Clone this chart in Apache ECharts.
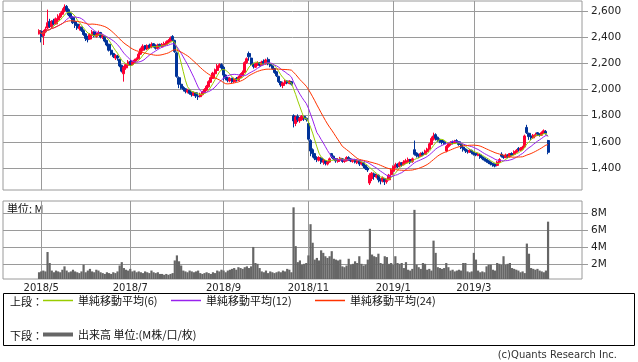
<!DOCTYPE html>
<html><head><meta charset="utf-8">
<script src="https://cdn.jsdelivr.net/npm/echarts/dist/echarts.min.js"></script>
<style>html,body{margin:0;padding:0;background:#fff}#c{width:638px;height:362px}</style>
</head><body><div id="c"></div>
<script>
// ---- tick labels ----
const priceTicks = [1400, 1600, 1800, 2000, 2200, 2400, 2600];
const volTicks = [2, 4, 6, 8];
const monthLabels = ['2018/5', '2018/7', '2018/9', '2018/11', '2019/1', '2019/3'];
const holidays = ['2018-04-30','2018-05-03','2018-05-04','2018-07-16','2018-09-17','2018-09-24','2018-10-08','2018-11-23','2018-12-24','2018-12-31','2019-01-01','2019-01-02','2019-01-03','2019-01-14','2019-02-11','2019-03-21'];
const firstDay = '2018-04-27';

// ---- series values ----
const opens = [
2425,2445,2410,2440,2470,2520,2480,2525,2500,2530,
2555,2575,2600,2635,2610,2580,2550,2520,2500,2465,
2475,2450,2425,2400,2385,2415,2440,2405,2415,2435,
2400,2405,2375,2345,2300,2275,2240,2255,2230,2185,
2120,2165,2185,2215,2190,2205,2225,2235,2270,2300,
2335,2310,2340,2325,2350,2335,2315,2345,2325,2335,
2345,2360,2370,2405,2375,2280,2090,2040,2015,2005,
1980,1995,1975,1955,1975,1950,1945,1960,1975,1995,
2020,2055,2085,2120,2145,2175,2190,2170,2110,2090,
2065,2085,2060,2085,2070,2090,2110,2130,2205,2275,
2240,2195,2170,2185,2205,2185,2215,2195,2230,2195,
2180,2160,2135,2100,2060,2030,2045,2065,2045,2060,
1800,1740,1795,1760,1770,1795,1780,1740,1610,1540,
1510,1480,1460,1475,1445,1455,1430,1445,1510,1490,
1470,1450,1460,1470,1450,1455,1480,1470,1450,1465,
1440,1455,1430,1440,1420,1400,1285,1320,1355,1330,
1345,1315,1300,1320,1295,1310,1350,1375,1405,1430,
1415,1440,1425,1440,1450,1465,1450,1540,1515,1500,
1490,1515,1505,1525,1545,1580,1620,1655,1635,1620,
1610,1600,1530,1565,1580,1600,1590,1610,1600,1580,
1560,1545,1535,1520,1535,1520,1510,1495,1500,1485,
1475,1465,1455,1445,1435,1430,1420,1445,1505,1490,
1480,1500,1485,1510,1505,1520,1550,1535,1545,1560,
1710,1665,1645,1630,1645,1670,1660,1650,1665,1680,1610];
const closes = [
2450,2405,2440,2460,2510,2480,2520,2500,2540,2560,
2580,2600,2630,2605,2570,2550,2510,2490,2470,2480,
2450,2420,2390,2380,2420,2440,2410,2420,2435,2400,
2410,2370,2340,2300,2270,2250,2260,2240,2180,2140,
2170,2190,2210,2190,2210,2225,2235,2270,2310,2330,
2310,2335,2320,2345,2330,2315,2340,2330,2345,2350,
2365,2375,2395,2380,2290,2100,2040,2010,2000,1985,
1995,1970,1960,1975,1950,1945,1965,1980,2000,2025,
2060,2090,2125,2150,2180,2190,2165,2110,2085,2070,
2085,2060,2080,2075,2095,2115,2130,2205,2235,2250,
2190,2175,2195,2205,2185,2210,2195,2225,2195,2180,
2160,2130,2105,2060,2035,2050,2065,2050,2065,2040,
1760,1790,1770,1780,1795,1775,1770,1620,1530,1510,
1475,1465,1480,1445,1460,1435,1445,1470,1490,1470,
1455,1465,1475,1450,1460,1480,1470,1455,1465,1445,
1455,1430,1440,1415,1395,1385,1345,1360,1335,1345,
1310,1300,1325,1295,1305,1345,1385,1410,1425,1410,
1440,1425,1445,1455,1465,1445,1470,1505,1495,1490,
1510,1500,1530,1545,1585,1625,1645,1630,1615,1605,
1595,1585,1565,1585,1595,1590,1605,1600,1580,1555,
1540,1530,1525,1535,1520,1505,1500,1505,1480,1470,
1460,1450,1440,1430,1425,1415,1445,1465,1490,1480,
1500,1485,1510,1500,1525,1535,1540,1550,1560,1645,
1670,1640,1630,1650,1655,1660,1650,1670,1685,1665,1520];
const lows = [
2420,2360,2340,2430,2460,2470,2470,2490,2495,2520,
2545,2570,2590,2590,2560,2540,2500,2470,2455,2450,
2440,2410,2370,2360,2380,2410,2400,2395,2410,2390,
2385,2360,2330,2290,2260,2240,2225,2220,2170,2130,
2060,2150,2175,2180,2185,2200,2215,2230,2265,2290,
2300,2300,2310,2315,2320,2305,2310,2320,2320,2325,
2340,2350,2365,2370,2280,2090,2010,2000,1985,1970,
1970,1960,1945,1950,1935,1920,1940,1955,1970,1990,
2015,2050,2080,2110,2140,2165,2150,2070,2070,2055,
2055,2050,2050,2060,2065,2085,2100,2125,2195,2220,
2180,2160,2165,2180,2175,2180,2185,2190,2185,2170,
2150,2120,2095,2050,2020,2010,2040,2040,2040,2030,
1710,1720,1750,1745,1760,1760,1755,1610,1490,1480,
1460,1445,1450,1430,1425,1420,1420,1440,1475,1460,
1440,1440,1450,1440,1440,1450,1455,1445,1440,1435,
1430,1415,1420,1400,1385,1370,1270,1300,1310,1320,
1290,1275,1290,1270,1280,1305,1345,1365,1400,1400,
1405,1410,1420,1430,1440,1430,1440,1495,1480,1475,
1485,1490,1500,1520,1540,1575,1610,1610,1600,1590,
1580,1575,1520,1555,1570,1580,1585,1590,1570,1545,
1525,1515,1510,1515,1505,1495,1490,1490,1470,1460,
1450,1440,1430,1420,1410,1405,1415,1440,1480,1470,
1475,1475,1480,1490,1500,1515,1525,1530,1540,1555,
1660,1615,1615,1625,1640,1645,1640,1645,1660,1655,1505];
const highs = [
2460,2450,2455,2480,2610,2540,2530,2540,2550,2575,
2590,2620,2650,2645,2620,2590,2560,2525,2505,2500,
2480,2460,2430,2410,2430,2455,2445,2435,2450,2440,
2425,2410,2380,2350,2310,2280,2270,2265,2235,2190,
2180,2200,2225,2225,2220,2235,2245,2285,2320,2345,
2340,2345,2350,2360,2355,2345,2350,2350,2355,2365,
2375,2385,2405,2415,2380,2290,2100,2050,2025,2010,
2005,2000,1985,1985,1980,1965,1975,1990,2010,2035,
2070,2100,2135,2160,2195,2200,2200,2180,2115,2095,
2095,2090,2090,2095,2105,2125,2145,2215,2245,2290,
2245,2205,2205,2215,2210,2220,2230,2235,2245,2200,
2185,2165,2140,2105,2065,2060,2075,2070,2070,2065,
1810,1800,1810,1790,1805,1800,1785,1750,1620,1550,
1515,1490,1490,1480,1470,1460,1455,1480,1515,1495,
1475,1475,1485,1475,1470,1490,1490,1475,1470,1470,
1465,1460,1450,1445,1425,1410,1360,1370,1365,1355,
1350,1320,1335,1325,1320,1355,1395,1420,1440,1435,
1450,1445,1460,1470,1480,1470,1480,1610,1520,1510,
1520,1525,1540,1555,1595,1640,1670,1665,1640,1625,
1615,1605,1575,1590,1605,1610,1615,1620,1605,1585,
1565,1550,1540,1545,1540,1525,1515,1515,1505,1490,
1480,1470,1460,1450,1440,1435,1455,1475,1520,1500,
1510,1505,1515,1520,1535,1545,1560,1560,1570,1655,
1730,1670,1655,1660,1670,1675,1665,1680,1695,1690,1615];
const volumes = [
1.0,1.1,1.2,1.1,3.4,2.1,1.2,1.0,1.2,1.1,
1.0,1.3,1.7,1.2,1.0,1.1,1.3,1.1,1.0,0.9,
1.1,1.9,1.0,1.2,1.4,1.1,1.0,1.3,1.2,1.0,
0.9,0.8,1.0,0.9,0.8,1.0,0.9,1.1,1.8,2.2,
1.5,1.3,1.2,1.4,1.1,1.2,1.0,1.1,1.0,0.9,
1.1,1.0,0.9,1.2,1.0,0.9,1.0,0.8,0.8,0.7,
0.8,0.7,0.8,0.9,2.4,3.0,2.3,1.8,1.2,1.1,
1.0,1.2,1.1,1.0,1.1,1.2,0.9,0.8,0.9,1.0,
0.9,0.8,1.0,0.9,1.2,1.1,1.3,1.2,1.0,1.2,
1.3,1.4,1.5,1.3,1.6,1.5,1.4,1.6,1.7,1.5,
1.7,4.0,2.1,2.0,1.5,1.1,1.0,1.2,0.9,1.1,
1.0,0.9,1.0,1.1,1.0,1.2,1.1,1.4,1.3,1.0,
8.7,4.1,2.2,2.4,1.9,2.0,2.1,3.0,6.7,4.5,
2.5,2.7,2.4,3.6,3.3,2.9,2.7,2.9,3.5,2.6,
2.5,2.4,2.5,1.7,1.6,1.8,2.6,1.9,2.0,2.3,
2.1,2.9,2.0,1.8,1.9,2.5,6.15,3.1,2.9,2.8,
3.2,2.1,2.0,2.9,2.8,2.0,2.1,1.9,2.9,2.1,
2.0,2.1,1.5,2.2,1.3,1.2,1.4,8.4,1.9,1.6,
1.4,2.1,2.0,1.3,1.4,1.2,4.75,3.3,1.6,1.5,
1.4,1.5,2.1,1.6,1.2,1.3,1.1,1.2,1.3,1.2,
2.1,2.1,1.1,1.0,1.1,3.3,2.5,1.2,1.0,1.1,
1.0,1.7,1.9,1.9,1.3,1.2,2.1,2.0,1.9,2.9,
1.9,2.0,2.1,1.5,1.4,1.3,1.2,1.0,1.1,0.9,
4.4,3.2,1.5,1.4,1.3,1.4,1.2,1.1,1.0,1.2,7.0];

// ---- categories (trading days) ----
function tradingDays(start, n) {
  const out = []; let t = Date.parse(start + 'T00:00:00Z');
  while (out.length < n) {
    const d = new Date(t); const wd = d.getUTCDay(); const iso = d.toISOString().slice(0, 10);
    if (wd !== 0 && wd !== 6 && holidays.indexOf(iso) < 0) out.push(iso);
    t += 86400000;
  }
  return out;
}
const dates = tradingDays(firstDay, closes.length);
const PAD_L = 17, PAD_R = 16;
const cats = [];
for (let i = 0; i < PAD_L; i++) cats.push('pre' + i);
dates.forEach(d => cats.push(d));
for (let i = 0; i < PAD_R; i++) cats.push('post' + i);
const monthOf = iso => iso.slice(0, 4) + '/' + parseInt(iso.slice(5, 7), 10);
const monthIdx = {};
dates.forEach((d, i) => {
  const m = monthOf(d);
  if (i > 0 && monthOf(dates[i - 1]) !== m && monthLabels.indexOf(m) >= 0) monthIdx[PAD_L + i] = m;
});

function movingAvg(n) {
  return closes.map((c, i) => {
    const s = Math.max(0, i - n + 1); let sum = 0;
    for (let k = s; k <= i; k++) sum += closes[k];
    return [PAD_L + i, +(sum / (i - s + 1)).toFixed(1)];
  });
}

const CJK = "'Noto Sans CJK JP', sans-serif";
const NUM = "'DejaVu Sans', sans-serif";
const GRID = '#9a9a9a';
const UP = '#ff0033', DOWN = '#003399';
const nameMA6 = '単純移動平均(6)', nameMA12 = '単純移動平均(12)', nameMA24 = '単純移動平均(24)', nameVol = '出来高 単位:(M株/口/枚)';

const chart = echarts.init(document.getElementById('c'), null, { renderer: 'canvas' });
const xBase = (gi, showLabel) => ({
  type: 'category', gridIndex: gi, data: cats, boundaryGap: false,
  axisLine: { show: false }, axisTick: { show: false },
  splitLine: { show: true, interval: (i) => monthIdx[i] !== undefined, lineStyle: { color: GRID, width: 1 } },
  axisLabel: showLabel ? {
    show: true, interval: (i) => monthIdx[i] !== undefined, formatter: (v, i) => monthIdx[i] || '',
    color: '#222', fontSize: 10, fontFamily: NUM, margin: 4
  } : { show: false }
});
chart.setOption({
  animation: false,
  backgroundColor: '#fff',
  grid: [
    { left: 3, top: 1, width: 579, height: 189, show: true, borderColor: GRID, borderWidth: 1, backgroundColor: 'transparent' },
    { left: 3, top: 201, width: 579, height: 78, show: true, borderColor: GRID, borderWidth: 1, backgroundColor: 'transparent' }
  ],
  xAxis: [xBase(0, false), xBase(1, true)],
  yAxis: [
    { type: 'value', gridIndex: 0, position: 'right', min: 1232, max: 2676, splitNumber: 7, scale: true,
      axisLine: { show: false },
      axisTick: { show: true, length: 6, lineStyle: { color: GRID }, customValues: priceTicks },
      splitLine: { show: true, lineStyle: { color: GRID } },
      axisLabel: { customValues: priceTicks, formatter: v => v.toLocaleString('en-US'), color: '#222', fontSize: 10.5, fontFamily: NUM, margin: 9 } },
    { type: 'value', gridIndex: 1, position: 'right', min: 0.2, max: 9.45, splitNumber: 4,
      axisLine: { show: false },
      axisTick: { show: true, length: 6, lineStyle: { color: GRID }, customValues: volTicks },
      splitLine: { show: true, lineStyle: { color: GRID } },
      axisLabel: { customValues: volTicks, formatter: v => v + 'M', color: '#222', fontSize: 10.5, fontFamily: NUM, margin: 9 } }
  ],
  legend: [
    { data: [{ name: nameMA6, icon: 'rect' }], left: 43, top: 295 },
    { data: [{ name: nameMA12, icon: 'rect' }], left: 171, top: 295 },
    { data: [{ name: nameMA24, icon: 'rect' }], left: 315, top: 295 },
    { data: [{ name: nameVol, icon: 'rect' }], left: 43, top: 329, itemHeight: 4 }
  ].map(l => Object.assign({ selectedMode: false, itemWidth: 30, itemHeight: 1.5, itemGap: 5, padding: 0,
      textStyle: { fontSize: 11, fontFamily: CJK, color: '#111' } }, l)),
  graphic: [
    { type: 'rect', silent: true, shape: { x: 3.5, y: 293.5, width: 631, height: 52 }, style: { fill: 'none', stroke: '#000', lineWidth: 1 } },
    { type: 'text', silent: true, x: 10, y: 302, style: { text: '上段：', font: "11px 'Noto Sans CJK JP'", fill: '#111', verticalAlign: 'middle' } },
    { type: 'text', silent: true, x: 10, y: 336, style: { text: '下段：', font: "11px 'Noto Sans CJK JP'", fill: '#111', verticalAlign: 'middle' } },
    { type: 'text', silent: true, x: 7, y: 209, style: { text: '単位: M', font: "11px 'Noto Sans CJK JP'", fill: '#111', verticalAlign: 'middle' } },
    { type: 'text', silent: true, x: 617, y: 355, style: { text: '(c)Quants Research Inc.', font: "10px 'DejaVu Sans'", fill: '#333', align: 'right', verticalAlign: 'middle' } }
  ],
  series: [
    { type: 'candlestick', xAxisIndex: 0, yAxisIndex: 0, barWidth: 2.6, z: 2,
      encode: { x: 0, y: [1, 2, 3, 4] },
      data: closes.map((c, i) => [PAD_L + i, opens[i], c, lows[i], highs[i]]),
      itemStyle: { color: UP, color0: DOWN, borderColor: UP, borderColor0: DOWN, borderWidth: 1 } },
    { type: 'line', name: nameMA6, xAxisIndex: 0, yAxisIndex: 0, data: movingAvg(6), showSymbol: false, symbol: 'none', z: 3,
      color: '#99cc00', lineStyle: { width: 1, color: '#99cc00' } },
    { type: 'line', name: nameMA12, xAxisIndex: 0, yAxisIndex: 0, data: movingAvg(12), showSymbol: false, symbol: 'none', z: 3,
      color: '#9922ee', lineStyle: { width: 1, color: '#9922ee' } },
    { type: 'line', name: nameMA24, xAxisIndex: 0, yAxisIndex: 0, data: movingAvg(24), showSymbol: false, symbol: 'none', z: 3,
      color: '#ff3300', lineStyle: { width: 1, color: '#ff3300' } },
    { type: 'bar', name: nameVol, xAxisIndex: 1, yAxisIndex: 1, barWidth: 2.2, color: '#666666',
      data: volumes.map((v, i) => [PAD_L + i, v]) }
  ]
});
</script></body></html>
